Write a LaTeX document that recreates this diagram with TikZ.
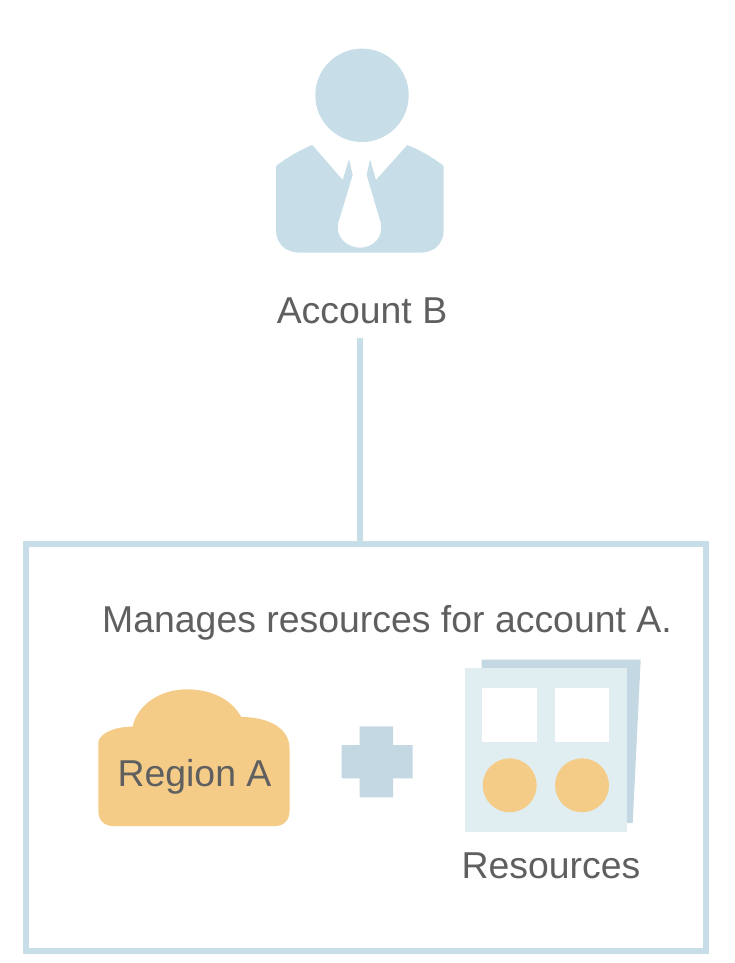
\documentclass[tikz,border=0pt]{standalone}
\usepackage{fontspec}
\setmainfont{Liberation Sans}
\definecolor{linecol}{HTML}{C7DDE8}
\definecolor{txtcol}{HTML}{5F5F5F}
\definecolor{cloudcol}{HTML}{F4CC88}
\definecolor{pluscol}{HTML}{C4D8E3}
\definecolor{sheetcol}{HTML}{E0EEF2}
\tikzset{
  px/.style={x=1pt,y=-1pt},
  label text/.style={text=txtcol,font=\fontsize{37.4}{37.4}\selectfont,inner sep=0pt,anchor=base},
  frame/.style={draw=linecol,line width=6pt,rectangle,minimum width=680pt,minimum height=406.7pt,inner sep=0pt,outer sep=0pt},
  link/.style={draw=linecol,line width=6pt},
}
\begin{document}
\begin{tikzpicture}[px]
\useasboundingbox (0,0) rectangle (735,963);
% person
\fill[linecol] (362,95.3) circle[radius=46.7pt];
\fill[linecol] (276,166) .. controls (288,157) and (300,150) .. (312.3,145)
  -- (342.7,180) -- (349,159.3) -- (352.7,175) -- (338.3,222.7)
  .. controls (335,236) and (346,247.7) .. (360,247.7)
  .. controls (374,247.7) and (384,236) .. (380.7,222.7)
  -- (366.7,175) -- (370,159.3) -- (376,180) -- (407.3,145)
  .. controls (420,150) and (432,157) .. (443.7,166)
  -- (443.7,230) .. controls (443.7,244) and (434,252.7) .. (420,252.7)
  -- (300,252.7) .. controls (286,252.7) and (276,244) .. (276,230) -- cycle;
\node[label text] (acct) at (362,323) {Account B};
\coordinate (linetop) at (360,338);
% frame
\node[frame] (box) at (366,747.7) {};
\draw[link] (linetop) -- (linetop |- box.north);
\node[label text] (manages) at (387,632) {Manages resources for account A.};
% cloud
\fill[cloudcol] (98.3,742) .. controls (100,733) and (115,726.5) .. (132.7,726.7)
  .. controls (137,705) and (160,689.3) .. (187,689.3)
  .. controls (212,689.3) and (232,700) .. (241.3,717)
  .. controls (268,717) and (289.5,728) .. (289.5,748)
  -- (289.5,811) .. controls (289.5,820) and (284,826) .. (275,826)
  -- (113,826) .. controls (104,826) and (98.3,820) .. (98.3,811) -- cycle;
\node[label text] (region) at (194.5,786) {Region A};
% plus
\fill[pluscol] (359.7,726.3) -- (393,726.3) -- (393,745) -- (412.7,745) -- (412.7,778.3)
  -- (393,778.3) -- (393,797.3) -- (359.7,797.3) -- (359.7,778.3) -- (341.7,778.3)
  -- (341.7,745) -- (359.7,745) -- cycle;
% resources
\fill[pluscol] (481.7,659.7) -- (640.7,659.7) -- (632.7,823) -- (480,823) -- cycle;
\fill[sheetcol] (465,668) rectangle (627.3,831.7);
\fill[white] (482.3,687.7) rectangle (536.7,741.7);
\fill[white] (555,687.7) rectangle (609,741.7);
\fill[cloudcol] (509.7,785.3) circle[radius=27pt];
\fill[cloudcol] (582,785.3) circle[radius=27pt];
\node[label text] (res) at (551,878) {Resources};
\end{tikzpicture}
\end{document}
